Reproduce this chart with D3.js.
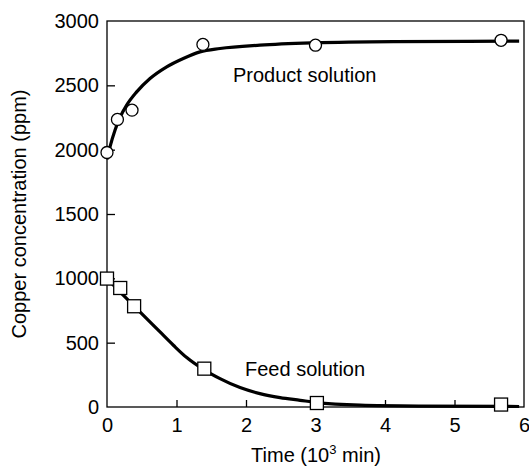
<!DOCTYPE html>
<html><head><meta charset="utf-8">
<script src="https://cdn.jsdelivr.net/npm/d3@7"></script>
<style>body{margin:0;background:#fff}text{font-family:"Liberation Sans",Arial,Helvetica,sans-serif;fill:#000}</style>
</head><body><svg id="c" width="529" height="466"></svg>
<script>
const xTicks = [0,1,2,3,4,5,6];
const yTicks = [0,500,1000,1500,2000,2500,3000];
const productX = [0, 0.15, 0.36, 1.38, 3.0, 5.67];
const productY = [1978, 2235, 2307, 2818, 2812, 2850];
const feedX = [0, 0.19, 0.39, 1.40, 3.02, 5.67];
const feedY = [998, 925, 783, 298, 31, 19];
const productCurveX = [0, 0.043, 0.115, 0.187, 0.283, 0.427, 0.619, 0.859, 1.098, 1.338, 1.626, 2.20, 2.97, 4.12, 5.93];
const productCurveY = [1925, 2022, 2151, 2250, 2346, 2449, 2553, 2644, 2709, 2760, 2786, 2812, 2830, 2840, 2843];
const feedCurveX = [0, 0.086, 0.187, 0.378, 0.571, 0.763, 0.955, 1.147, 1.386, 1.626, 1.914, 2.20, 2.49, 2.78, 3.0, 3.64, 4.5, 5.93];
const feedCurveY = [1000, 950, 894, 791, 687, 583, 480, 384, 293, 221, 151, 104, 73, 52, 36, 14, 7, 4];

const svg = d3.select("#c");
const L = 107, R = 524, T = 21, B = 407;
const x = d3.scaleLinear().domain([0,6]).range([L,R]);
const y = d3.scaleLinear().domain([0,3000]).range([B,T]);
const fs = 20;

svg.append("rect").attr("x",L).attr("y",T).attr("width",R-L).attr("height",B-T)
  .attr("fill","none").attr("stroke","#000").attr("stroke-width",1.3);

const xa = svg.append("g").attr("transform",`translate(0,${B})`)
  .call(d3.axisBottom(x).tickValues(xTicks).tickSizeInner(-7).tickSizeOuter(0).tickPadding(11).tickFormat(d3.format("d")));
xa.select(".domain").remove();
xa.selectAll("line").attr("stroke-width",1.3);
xa.selectAll("text").attr("font-size",fs).attr("font-family",null);
const ya = svg.append("g").attr("transform",`translate(${L},0)`)
  .call(d3.axisLeft(y).tickValues(yTicks).tickSizeInner(-8).tickSizeOuter(0).tickPadding(8).tickFormat(d3.format("d")));
ya.select(".domain").remove();
ya.selectAll("line").attr("stroke-width",1.3);
ya.selectAll("text").attr("font-size",fs).attr("font-family",null);
ya.selectAll(".tick").filter(d=>d===0||d===3000).selectAll("line").remove();
xa.selectAll(".tick").filter(d=>d===0||d===6).selectAll("line").remove();

const line = d3.line().x(d=>x(d[0])).y(d=>y(d[1])).curve(d3.curveMonotoneX);
svg.append("path").datum(productCurveX.map((v,i)=>[v,productCurveY[i]]))
  .attr("d",line).attr("fill","none").attr("stroke","#000").attr("stroke-width",3.2);
svg.append("path").datum(feedCurveX.map((v,i)=>[v,feedCurveY[i]]))
  .attr("d",line).attr("fill","none").attr("stroke","#000").attr("stroke-width",3.2);

svg.selectAll("circle.p").data(productX.map((v,i)=>[v,productY[i]])).enter().append("circle")
  .attr("cx",d=>x(d[0])).attr("cy",d=>y(d[1])).attr("r",6)
  .attr("fill","#fff").attr("stroke","#000").attr("stroke-width",1.3);
const s = 13;
svg.selectAll("rect.f").data(feedX.map((v,i)=>[v,feedY[i]])).enter().append("rect")
  .attr("x",d=>x(d[0])-s/2).attr("y",d=>y(d[1])-s/2).attr("width",s).attr("height",s)
  .attr("fill","#fff").attr("stroke","#000").attr("stroke-width",1.3);

svg.append("text").attr("x",233).attr("y",82).attr("font-size",fs).text("Product solution");
svg.append("text").attr("x",245).attr("y",376).attr("font-size",fs).text("Feed solution");

const xt = svg.append("text").attr("x",316).attr("y",462).attr("font-size",fs).attr("text-anchor","middle");
xt.append("tspan").text("Time (10");
xt.append("tspan").attr("font-size",13).attr("dy",-8).text("3");
xt.append("tspan").attr("dy",8).text(" min)");

svg.append("text").attr("transform",`translate(26,${(T+B)/2}) rotate(-90)`)
  .attr("text-anchor","middle").attr("font-size",fs).text("Copper concentration (ppm)");
</script></body></html>
